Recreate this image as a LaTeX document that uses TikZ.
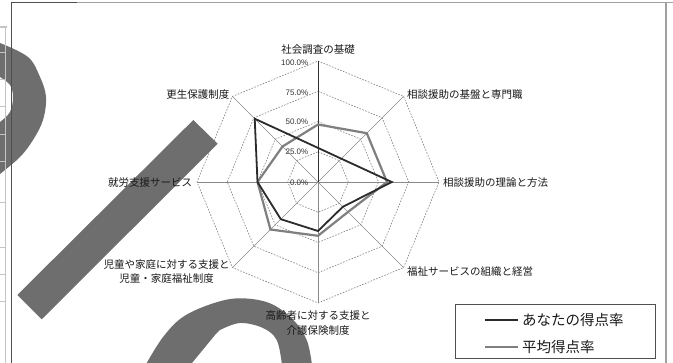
\documentclass[tikz,border=0pt]{standalone}
\usepackage{fontspec}
\newfontfamily\jp{Noto Sans CJK JP}
\newfontfamily\lib{Liberation Sans}
\definecolor{labelc}{HTML}{1A1A1A}
\definecolor{tickc}{HTML}{333333}
\definecolor{gridc}{HTML}{808080}
\definecolor{axisc}{HTML}{8A8A8A}
\definecolor{axisv}{HTML}{303030}
\definecolor{sera}{HTML}{2B2B2B}
\definecolor{serb}{HTML}{7F7F7F}
\definecolor{wmc}{HTML}{6E6E6E}
\definecolor{sheetc}{HTML}{C4C4C4}
\definecolor{framec}{HTML}{A0A0A0}
\definecolor{framed}{HTML}{505050}
\begin{document}
\begin{tikzpicture}[x=1pt,y=-1pt,
  lbl/.style={font=\jp\fontsize{10.5}{14}\selectfont, text=labelc, inner sep=0pt},
  ticklbl/.style={font=\lib\fontsize{8}{9}\selectfont, text=tickc, inner sep=0pt, anchor=east},
  legtext/.style={font=\jp\fontsize{14.5}{16}\selectfont, text=labelc, inner sep=0pt, anchor=west},
  gridl/.style={draw=gridc, dash pattern=on 1.6pt off 1.4pt, line width=0.6pt},
  axisl/.style={draw=axisc, line width=0.7pt},
  axisvl/.style={draw=axisv, line width=0.7pt},
  seriesa/.style={draw=sera, line width=1.8pt, line join=miter},
  seriesb/.style={draw=serb, line width=2.2pt, line join=miter},
  wm/.style={fill=wmc},
  sheet/.style={draw=sheetc, line width=1pt}]
\useasboundingbox (0,0) rectangle (673,363);
\fill[white] (0,0) rectangle (673,363);

% radar grid and series
\begin{scope}[shift={(318,182)}, yscale=-1]
  \foreach \r in {30.25,60.5,90.75,121}
    \draw[gridl] (90:\r) -- (45:\r) -- (0:\r) -- (-45:\r) -- (-90:\r) -- (-135:\r) -- (180:\r) -- (135:\r) -- cycle;
  \foreach \a in {45,0,-45,-90,-135,180,135}
    \draw[axisl] (0,0) -- (\a:121);
  \draw[axisvl] (0,0) -- (90:121);
  \draw[seriesb] (90:57.5) -- (45:69) -- (0:69) -- (-45:42.4) -- (-90:53.8) -- (-135:67.2) -- (180:60.5) -- (135:50.2) -- cycle;
  \draw[seriesa] (90:34.1) -- (45:32.96) -- (0:73.8) -- (-45:35.1) -- (-90:49) -- (-135:52.6) -- (180:60.5) -- (135:89.5) -- cycle;
\end{scope}

% watermark shapes
\fill[wm] plot[smooth, tension=0.6] coordinates {(0,43) (28,57) (40,77) (46,97) (43,120) (33,140) (20,157) (0,174)}
  -- (0,122) -- plot[smooth, tension=0.6] coordinates {(0,122) (10,112) (13,97) (10,85) (0,77)} -- cycle;
\fill[wm] (17.3,295) -- (193.3,120) -- (217.7,143.8) -- (41.7,319.3) -- cycle;
\fill[wm] plot[smooth, tension=0.6] coordinates {(146.7,363) (163.3,336.7) (183.3,316.7) (213.3,303.3) (240,298.3) (270,303.3) (293.3,320) (306.7,340) (311.7,363)}
  -- (281.7,363) -- plot[smooth, tension=0.6] coordinates {(281.7,363) (276.7,340) (263,328) (240,323) (220,330)} -- (215,335) -- (192,363) -- cycle;

% sheet lines at the left
\draw[sheet] (5,27) -- (5,363);
\draw[draw=sheetc, line width=2.5pt] (0,27) -- (7,27);
\foreach \yy in {53,80,107,135,162,203,248,275,302}
  \draw[sheet] (0,\yy) -- (5,\yy);

% chart frame
\draw[draw=framed, line width=0.9pt] (11.5,2.5) -- (11.5,363);
\draw[draw=framec, line width=1.5pt] (77,2.5) -- (673,2.5);
\draw[draw=framed, line width=1pt] (11.5,2.5) -- (77,2.5);
\draw[draw=framec, line width=1.5pt] (666,2.5) -- (666,363);

% tick labels
\node[ticklbl] (t100) at (308.5,62.5) {100.0\%};
\node[ticklbl] (t75) at (308.5,92.3) {75.0\%};
\node[ticklbl] (t50) at (308.5,121.8) {50.0\%};
\node[ticklbl] (t25) at (308.5,151.7) {25.0\%};
\node[ticklbl] (t0) at (308.5,182.3) {0.0\%};

% axis labels
\node[lbl] (l1) at (318,50) {社会調査の基礎};
\node[lbl, anchor=west] (l2) at (407,95) {相談援助の基盤と専門職};
\node[lbl, anchor=west] (l3) at (443,183) {相談援助の理論と方法};
\node[lbl, anchor=west] (l4) at (407,272) {福祉サービスの組織と経営};
\node[lbl, align=center, font=\jp\fontsize{10.5}{15.5}\selectfont] (l5) at (318,323) {高齢者に対する支援と\\介護保険制度};
\node[lbl, align=center, font=\jp\fontsize{10.5}{13.5}\selectfont] (l6) at (166.5,271.7) {児童や家庭に対する支援と\\児童・家庭福祉制度};
\node[lbl, anchor=east] (l7) at (192.3,183) {就労支援サービス};
\node[lbl, anchor=east] (l8) at (229.6,94.5) {更生保護制度};

% legend
\node[draw=framed, line width=0.8pt, fill=white, minimum width=199.5pt, minimum height=54.3pt, inner sep=0pt, anchor=north west] (leg) at (455,304) {};
\coordinate (la1) at (485,320);
\coordinate (la2) at (518,320);
\coordinate (lb1) at (485,347);
\coordinate (lb2) at (518,347);
\draw[draw=sera, line width=1.8pt] (la1) -- (la2);
\draw[draw=serb, line width=1.8pt] (lb1) -- (lb2);
\node[legtext] (lt1) at (522,320) {あなたの得点率};
\node[legtext] (lt2) at (522,347) {平均得点率};
\end{tikzpicture}
\end{document}
